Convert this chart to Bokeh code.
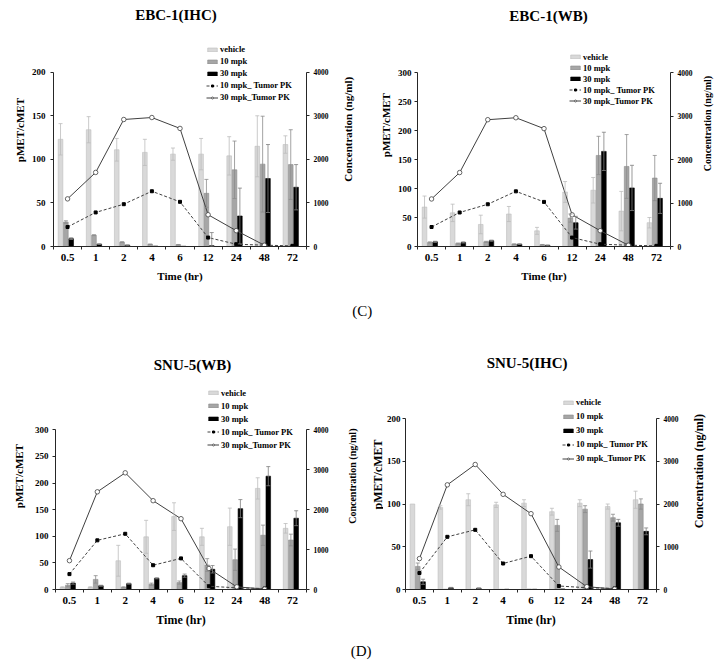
import math
import numpy as np
from bokeh.plotting import figure
from bokeh.models import (ColumnDataSource, Range1d, LinearAxis, FixedTicker, Whisker,
                          TeeHead, Legend, LegendItem, Label)
from bokeh.layouts import row, column
from bokeh.embed import file_html
from bokeh.resources import INLINE

nan = float("nan")

# ---------------- data ----------------
times = ["0.5", "1", "2", "4", "6", "12", "24", "48", "72"]

# EBC-1 (IHC)
ebc_ihc_vehicle = [123, 134, 111, 108, 106, 106, 104, 115, 117]
ebc_ihc_vehicle_err = [18, 15, 13, 15, 7, 18, 22, 35, 10]
ebc_ihc_10 = [28, 13, 5, 2.5, 2, 61, 88, 94.5, 94]
ebc_ihc_10_err = [1.5, 0.5, 0.5, 0.3, 0.3, 16, 33, 55, 40]
ebc_ihc_30 = [9, 2.7, 1.5, 0.5, 0.3, 1, 35, 78, 68]
ebc_ihc_30_err = [1, 0.3, 0.2, 0, 0, 15, 32, 39, 26]

# EBC-1 (WB)
ebc_wb_vehicle = [68, 58, 38, 56, 27, 94, 97, 61, 41]
ebc_wb_vehicle_err = [19, 15, 16, 13, 6, 18, 22, 34, 9]
ebc_wb_10 = [7, 5, 8, 4, 3, 49, 157, 138, 118]
ebc_wb_10_err = [1, 1, 1, 0.5, 0.5, 7, 33, 55, 39]
ebc_wb_30 = [8, 7, 10, 4, 2, 41, 164, 101, 83]
ebc_wb_30_err = [1, 1, 1, 0.5, 0.5, 11, 33, 39, 26]

# EBC-1 tumor PK (ng/ml)
ebc_pk_10 = [448, 782, 971, 1268, 1025, 205, 53, 30, 15]
ebc_pk_30 = [1093, 1700, 2915, 2960, 2710, 729, 364, 30, nan]

# SNU-5 (WB)
snu_wb_vehicle = [4, 4, 54, 99, 137, 99, 118, 190, 115]
snu_wb_vehicle_err = [1, 1, 29, 31, 26, 16, 35, 20, 9]
snu_wb_10 = [8, 19, 4, 10, 13, 46, 56, 102, 93]
snu_wb_10_err = [3, 7, 1, 2, 3, 12, 20, 19, 11]
snu_wb_30 = [12, 7, 11, 21, 26, 38, 152, 213, 134]
snu_wb_30_err = [2, 1, 1, 1, 3, 7, 17, 18, 14]

# SNU-5 (IHC)
snu_ihc_vehicle = [100, 96, 105, 99, 101, 91, 101, 97, 105]
snu_ihc_vehicle_err = [0, 2, 7, 3, 4, 4, 4, 3, 10]
snu_ihc_10 = [27, 0.3, 0.3, 0.2, 0.5, 75, 94, 84, 100]
snu_ihc_10_err = [4, 0, 0, 0, 0, 7, 4, 4, 6]
snu_ihc_30 = [9, 2, 1.5, 0.3, 0.3, 0.7, 35, 78, 68]
snu_ihc_30_err = [3, 0.5, 0.3, 0, 0, 0, 10, 4, 4]

# SNU-5 tumor PK (ng/ml)
snu_pk_10 = [386, 1232, 1396, 608, 780, 82, 41, 25, nan]
snu_pk_30 = [723, 2448, 2924, 2226, 1774, 526, 66, 10, nan]

left_ticks_200 = [0, 50, 100, 150, 200]
left_ticks_300 = [0, 50, 100, 150, 200, 250, 300]
right_ticks = [0, 1000, 2000, 3000, 4000]
PK_MAX = 4000

series_names = ["vehicle", "10 mpk", "30 mpk", "10 mpk_ Tumor PK", "30 mpk_Tumor PK"]
x_title = "Time (hr)"
y_title = "pMET/cMET"
y2_title = "Concentration (ng/ml)"

# ---------------- style ----------------
SERIF = "Liberation Serif"
C_VEH, C_VEH_L = "#d9d9d9", "#bdbdbd"
C_10, C_10_L = "#a6a6a6", "#8c8c8c"
C_30, C_30_L = "#000000", "#7f7f7f"
C_LINE = "#404040"
C_AXIS = "#262626"
OFFSETS = [-0.25, -0.06, 0.13]
BAR_W = 0.165


def text_fig(text, box, center, size, bold=True, angle=0.0):
    """A bare figure (frame = whole canvas) that only carries one text label.
    box = (x0, y0, w, h) on the page, center = (cx, cy) on the page."""
    x0, y0, w, h = box
    cx, cy = center
    p = figure(width=w, height=h, x_range=Range1d(0, w), y_range=Range1d(0, h),
               output_backend="svg", toolbar_location=None, min_border=0,
               x_axis_type=None, y_axis_type=None)
    p.title.visible = False
    p.outline_line_color = None
    p.add_layout(Label(x=cx - x0, y=h - (cy - y0), text=text, angle=angle,
                       text_align="center", text_baseline="middle",
                       text_font=SERIF, text_font_style="bold" if bold else "normal",
                       text_font_size=f"{size}px", text_color="#000000"))
    return p


def panel(title, ymax, yticks, bars, pk10, pk30, geom):
    fx, fy, w, h = geom["fig"]
    l, r, t, b = geom["frame"]          # t = pixel row of the axis top (ymax)
    # the frame reaches up to the top of the figure so that title and legend fit in it
    scale_top = (b - fy) / (b - t)
    p = figure(width=w, height=h, output_backend="svg", toolbar_location=None,
               x_range=Range1d(-0.5, len(times) - 0.5),
               y_range=Range1d(0, ymax * scale_top),
               min_border_left=l - fx, min_border_right=fx + w - r,
               min_border_top=0, min_border_bottom=fy + h - b)
    p.title.visible = False
    p.outline_line_color = None
    p.xgrid.visible = False
    p.ygrid.visible = False
    p.extra_y_ranges = {"pk": Range1d(0, PK_MAX * scale_top)}

    idx = np.arange(len(times))
    colors = [(C_VEH, C_VEH_L), (C_10, C_10_L), (C_30, C_30_L)]
    bar_renderers = []
    for (vals, errs), off, (fc, lc) in zip(bars, OFFSETS, colors):
        xs = idx + off
        src = ColumnDataSource(dict(x=xs, top=vals))
        rr = p.vbar(x="x", top="top", width=BAR_W, source=src, fill_color=fc,
                    line_color=lc if fc != C_30 else C_30, line_width=0.6)
        bar_renderers.append(rr)
        keep = [i for i, e in enumerate(errs) if e > 0]
        esrc = ColumnDataSource(dict(
            x=[xs[i] for i in keep],
            upper=[vals[i] + errs[i] for i in keep],
            lower=[max(vals[i] - errs[i], 0) for i in keep]))
        wk = Whisker(source=esrc, base="x", upper="upper", lower="lower",
                     line_color=lc, line_width=0.8, level="overlay",
                     upper_head=TeeHead(size=4, line_color=lc, line_width=0.8),
                     lower_head=TeeHead(size=4, line_color=lc, line_width=0.8))
        p.add_layout(wk)

    pk_src = ColumnDataSource(dict(x=idx, pk10=pk10, pk30=pk30))
    l10 = p.line("x", "pk10", source=pk_src, y_range_name="pk", line_color=C_LINE,
                 line_width=1, line_dash="3 2")
    s10 = p.scatter("x", "pk10", source=pk_src, y_range_name="pk", marker="square",
                    size=3, fill_color="#000000", line_color="#000000")
    l30 = p.line("x", "pk30", source=pk_src, y_range_name="pk", line_color=C_LINE,
                 line_width=1)
    s30 = p.scatter("x", "pk30", source=pk_src, y_range_name="pk", marker="circle",
                    size=4.5, fill_color="white", line_color=C_LINE, line_width=0.8)

    # axes
    f = geom["fonts"]
    xa = p.xaxis[0]
    xa.ticker = FixedTicker(ticks=list(range(len(times))),
                            minor_ticks=[i - 0.5 for i in range(len(times) + 1)])
    xa.major_label_overrides = {i: tl for i, tl in enumerate(times)}
    xa.major_tick_in = 0
    xa.major_tick_out = 0
    xa.minor_tick_in = 0
    xa.minor_tick_out = 3
    xa.axis_label = x_title

    ya = p.yaxis[0]
    ya.ticker = FixedTicker(ticks=yticks, minor_ticks=[])
    ya.bounds = (0, ymax)
    ya.major_tick_in = 0
    ya.major_tick_out = 3
    ya.axis_label = None

    ra = LinearAxis(y_range_name="pk", ticker=FixedTicker(ticks=right_ticks, minor_ticks=[]),
                    bounds=(0, PK_MAX))
    ra.major_tick_in = 0
    ra.major_tick_out = 3
    p.add_layout(ra, "right")

    for ax, tsize, sd in ((xa, f["xt"], 4), (ya, f["yt"], f["ys"]), (ra, f["rt"], 4)):
        ax.axis_line_color = C_AXIS
        ax.major_tick_line_color = C_AXIS
        ax.minor_tick_line_color = C_AXIS
        ax.major_label_text_font = SERIF
        ax.major_label_text_font_style = "bold"
        ax.major_label_text_font_size = f"{tsize}px"
        ax.major_label_text_color = "#000000"
        ax.major_label_standoff = sd
    xa.axis_label_text_font = SERIF
    xa.axis_label_text_font_style = "bold"
    xa.axis_label_text_font_size = f"{f['xl']}px"
    xa.axis_label_text_color = "#000000"
    xa.axis_label_standoff = 6

    # legend (position relative to the bottom-left corner of the frame)
    vx, vy, lh = geom["legend"]
    items = [
        LegendItem(label=series_names[0], renderers=[bar_renderers[0]]),
        LegendItem(label=series_names[1], renderers=[bar_renderers[1]]),
        LegendItem(label=series_names[2], renderers=[bar_renderers[2]]),
        LegendItem(label=series_names[3], renderers=[l10, s10]),
        LegendItem(label=series_names[4], renderers=[l30, s30]),
    ]
    lg = Legend(items=items, location=(vx, vy), orientation="vertical",
                background_fill_alpha=0, border_line_alpha=0, padding=0, margin=0,
                spacing=0, label_height=lh, glyph_height=5, glyph_width=12,
                label_standoff=2, label_text_font=SERIF, label_text_font_style="bold",
                label_text_font_size="8.5px", label_text_color="#000000")
    p.add_layout(lg, "center")

    # panel title (inside the extended frame)
    tx, ty = geom["title"]
    dx = -0.5 + (tx - l) / (r - l) * len(times)
    dy = (b - ty) / (b - t) * ymax
    p.add_layout(Label(x=dx, y=dy, text=title, text_align="center", text_baseline="middle",
                       text_font=SERIF, text_font_style="bold", text_font_size="15px",
                       text_color="#000000"))

    # vertical axis titles in narrow side strips, both reading bottom-to-top
    lw, rw = geom["strips"]
    left = text_fig(y_title, (fx - lw, fy, lw, h), geom["ylab"], f["yl"], angle=math.pi / 2)
    right = text_fig(y2_title, (fx + w, fy, rw, h), geom["rlab"], f["rl"], angle=math.pi / 2)
    return [left, p, right]


f1 = dict(xt=11, xl=11, yt=9, ys=5, yl=11, rt=7.5, rl=11)
f2 = dict(xt=11, xl=11, yt=9, ys=3, yl=11, rt=7.5, rl=10)
f3 = dict(xt=11, xl=12, yt=9, ys=4, yl=11, rt=7.5, rl=10)
f4 = dict(xt=11, xl=12, yt=9, ys=2, yl=12, rt=7.5, rl=12)

g1 = panel("EBC-1(IHC)", 200, left_ticks_200,
           [(ebc_ihc_vehicle, ebc_ihc_vehicle_err), (ebc_ihc_10, ebc_ihc_10_err),
            (ebc_ihc_30, ebc_ihc_30_err)], ebc_pk_10, ebc_pk_30,
           dict(fig=(28, 0, 310, 298), frame=(52, 306, 72, 247), title=(175, 15),
                legend=(153, 143, 12), fonts=f1, strips=(28, 22),
                ylab=(19, 157), rlab=(347, 156)))
g2 = panel("EBC-1(WB)", 300, left_ticks_300,
           [(ebc_wb_vehicle, ebc_wb_vehicle_err), (ebc_wb_10, ebc_wb_10_err),
            (ebc_wb_30, ebc_wb_30_err)], ebc_pk_10, ebc_pk_30,
           dict(fig=(394, 0, 304, 298), frame=(415, 670, 72, 246), title=(547, 15),
                legend=(152, 140, 11), fonts=f2, strips=(34, 22),
                ylab=(385, 151), rlab=(707, 149)))
g3 = panel("SNU-5(WB)", 300, left_ticks_300,
           [(snu_wb_vehicle, snu_wb_vehicle_err), (snu_wb_10, snu_wb_10_err),
            (snu_wb_30, snu_wb_30_err)], snu_pk_10, snu_pk_30,
           dict(fig=(28, 322, 312, 318), frame=(55, 306, 431, 593), title=(192, 365),
                legend=(152, 138, 13), fonts=f3, strips=(28, 20),
                ylab=(18, 505), rlab=(352, 505)))
g4 = panel("SNU-5(IHC)", 200, left_ticks_200,
           [(snu_ihc_vehicle, snu_ihc_vehicle_err), (snu_ihc_10, snu_ihc_10_err),
            (snu_ihc_30, snu_ihc_30_err)], snu_pk_10, snu_pk_30,
           dict(fig=(383, 322, 305, 318), frame=(402, 656, 418, 589), title=(525, 362),
                legend=(157, 124, 14), fonts=f4, strips=(23, 32),
                ylab=(377, 503), rlab=(698, 499)))

pc = text_fig("(C)", (0, 298, 720, 24), (361.7, 310), 15, bold=False)
pd = text_fig("(D)", (0, 640, 720, 26), (360.7, 650), 15, bold=False)

layout = column(row(*g1, *g2), pc, row(*g3, *g4), pd)

with open("out.html", "w") as fh:
    fh.write(file_html(layout, INLINE))
